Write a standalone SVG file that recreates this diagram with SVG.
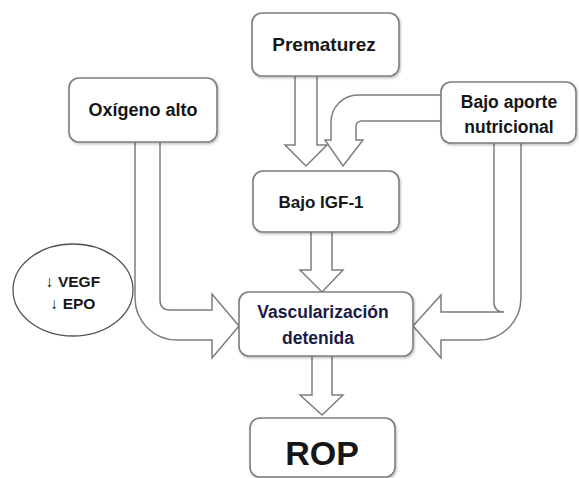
<svg xmlns="http://www.w3.org/2000/svg" width="579" height="478" viewBox="0 0 579 478">
<defs>
<style>
.box{fill:#fff;stroke:#7d7d7d;stroke-width:1.6}
.arr{fill:#fff;stroke:#7d7d7d;stroke-width:1.5;stroke-linejoin:miter}
.t{font-family:"Liberation Sans",Arial,sans-serif;font-weight:bold;fill:#161616;text-anchor:middle}
.v{fill:#1b1b46}
</style>
<filter id="sh" x="-10%" y="-10%" width="125%" height="130%">
<feDropShadow dx="1" dy="1.5" stdDeviation="1" flood-color="#000" flood-opacity="0.25"/>
</filter>
</defs>
<rect width="579" height="478" fill="#fff"/>
<g id="connectors">
<path class="arr" d="M295,76 L295,145 L285,145 L306,166 L327,145 L317,145 L317,76"/>
<path class="arr" d="M441,95 L358,95 A27,27 0 0 0 331,122 L331,140 L325,140 L343,166 L363,140 L356,140 L356,127 Q356,121 362,121 L441,121"/>
<path class="arr" d="M135,142 L135,298 A42,42 0 0 0 177,340 L212,340 L212,358 L239,326 L212,294 L212,310 L170,310 Q160,310 160,300 L160,142"/>
<path class="arr" d="M521,143 L521,298 A42,42 0 0 1 479,340 L441,340 L441,358 L413,326 L441,295 L441,312 L504,312 Q494,312 494,302 L494,143"/>
<path class="arr" d="M311,232 L311,270 L300,270 L322,292 L343,270 L332,270 L332,232"/>
<path class="arr" d="M312,356 L312,395 L300,395 L322,415 L343,395 L332,395 L332,356"/>
</g>
<g id="prematurez">
<rect class="box" filter="url(#sh)" x="252" y="13" width="147" height="63" rx="10"/>
<text class="t" x="324" y="51" font-size="19">Prematurez</text>
</g>
<g id="oxigeno">
<rect class="box" filter="url(#sh)" x="69" y="78" width="148" height="64" rx="10"/>
<text class="t" x="143" y="116" font-size="18">Oxígeno alto</text>
</g>
<g id="bajo-aporte">
<rect class="box" filter="url(#sh)" x="441" y="82" width="135" height="61" rx="10"/>
<text class="t" x="509" y="108" font-size="17.5">Bajo aporte</text>
<text class="t" x="509" y="133" font-size="17.5">nutricional</text>
</g>
<g id="bajo-igf">
<rect class="box" filter="url(#sh)" x="253" y="171" width="146" height="61" rx="10"/>
<text class="t" x="321" y="208" font-size="17">Bajo IGF-1</text>
</g>
<g id="vegf-epo">
<ellipse cx="73" cy="290" rx="60" ry="46" fill="#fff" stroke="#555" stroke-width="1.3"/>
<text class="t" x="73" y="287" font-size="15.5">↓ VEGF</text>
<text class="t" x="73" y="309" font-size="15.5">↓ EPO</text>
</g>
<g id="vascularizacion">
<rect class="box" filter="url(#sh)" x="239" y="292" width="174" height="64" rx="10"/>
<text class="t v" x="323" y="318" font-size="17.5">Vascularización</text>
<text class="t v" x="318" y="344" font-size="17.5">detenida</text>
</g>
<g id="rop">
<rect class="box" filter="url(#sh)" x="250" y="418" width="145" height="59" rx="10"/>
<text class="t" x="322" y="465" font-size="34" fill="#000">ROP</text>
</g>
</svg>
